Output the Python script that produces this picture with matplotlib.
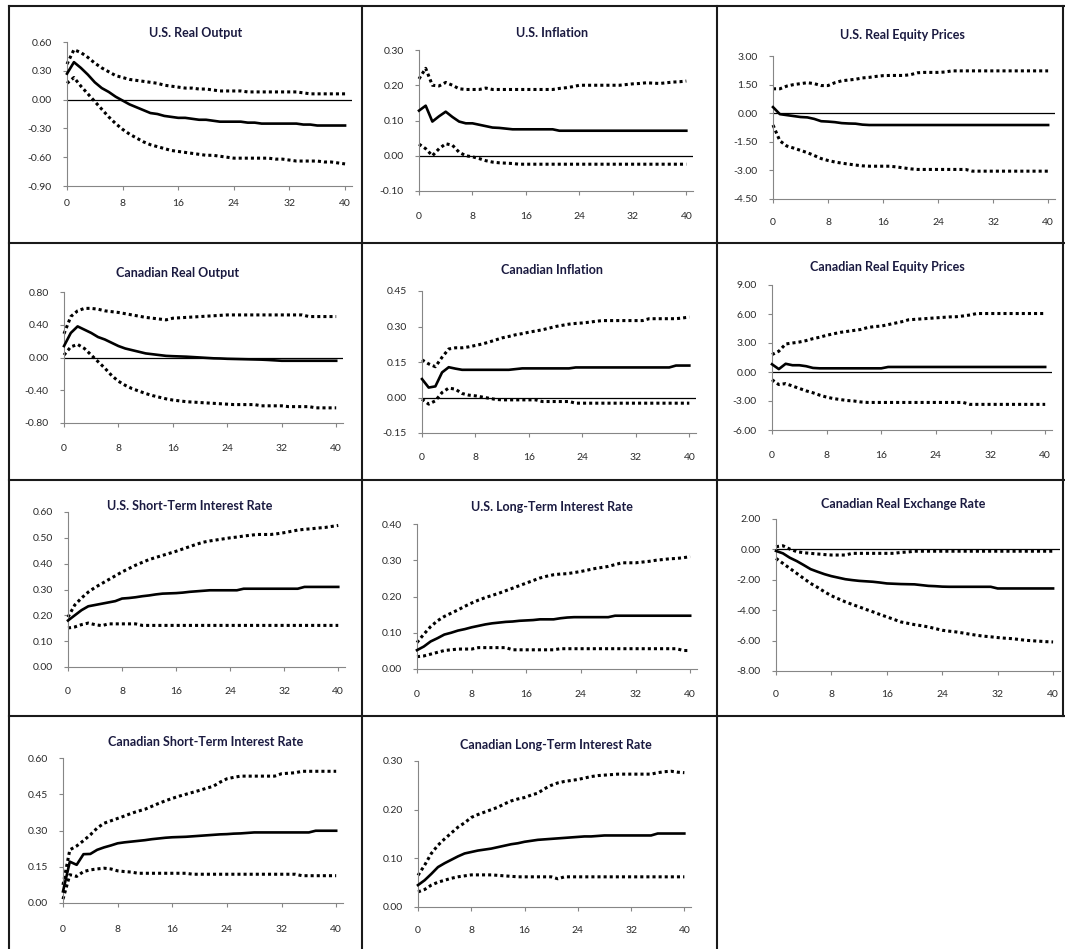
import matplotlib
matplotlib.use("Agg")
import matplotlib.pyplot as plt
from matplotlib.lines import Line2D
from matplotlib.ticker import FixedLocator, FormatStrFormatter
import numpy as np

plt.rcParams["font.family"] = ["Lato", "DejaVu Sans"]
plt.rcParams["axes.unicode_minus"] = False

W, H = 1065, 949
quarters = list(range(41))

titles = [
    "U.S. Real Output", "U.S. Inflation", "U.S. Real Equity Prices",
    "Canadian Real Output", "Canadian Inflation", "Canadian Real Equity Prices",
    "U.S. Short-Term Interest Rate", "U.S. Long-Term Interest Rate", "Canadian Real Exchange Rate",
    "Canadian Short-Term Interest Rate", "Canadian Long-Term Interest Rate",
]

# y axis ranges: (min, max, step)
y_ranges = [
    (-0.9, 0.6, 0.3), (-0.1, 0.3, 0.1), (-4.5, 3.0, 1.5),
    (-0.8, 0.8, 0.4), (-0.15, 0.45, 0.15), (-6.0, 9.0, 3.0),
    (0.0, 0.6, 0.1), (0.0, 0.4, 0.1), (-8.0, 2.0, 2.0),
    (0.0, 0.6, 0.15), (0.0, 0.3, 0.1),
]

# --- responses (mid) and bands (upper / lower), horizons 0..40 ---
us_output_mid = [0.27, 0.39, 0.33, 0.26, 0.18, 0.12, 0.08, 0.03, -0.01, -0.05, -0.08, -0.11, -0.14, -0.15,
                 -0.17, -0.18, -0.19, -0.19, -0.20, -0.21, -0.21, -0.22, -0.23, -0.23, -0.23, -0.23, -0.24,
                 -0.24, -0.25, -0.25, -0.25, -0.25, -0.25, -0.25, -0.26, -0.26, -0.27, -0.27, -0.27, -0.27, -0.27]
us_output_up = [0.37, 0.52, 0.49, 0.44, 0.38, 0.33, 0.29, 0.25, 0.23, 0.21, 0.20, 0.19, 0.18, 0.17, 0.15,
                0.14, 0.13, 0.12, 0.12, 0.11, 0.11, 0.10, 0.09, 0.09, 0.09, 0.09, 0.08, 0.08, 0.08, 0.08,
                0.08, 0.08, 0.08, 0.08, 0.07, 0.06, 0.06, 0.06, 0.06, 0.06, 0.06]
us_output_lo = [0.17, 0.23, 0.14, 0.06, -0.02, -0.10, -0.18, -0.25, -0.31, -0.36, -0.40, -0.44, -0.47, -0.49,
                -0.51, -0.53, -0.54, -0.55, -0.56, -0.57, -0.58, -0.58, -0.59, -0.60, -0.61, -0.61, -0.61,
                -0.61, -0.61, -0.61, -0.62, -0.62, -0.63, -0.64, -0.64, -0.64, -0.64, -0.65, -0.65, -0.66, -0.67]

us_infl_mid = [0.128, 0.142, 0.097, 0.112, 0.125, 0.110, 0.097, 0.092, 0.092, 0.088, 0.084, 0.080, 0.079,
               0.077, 0.075, 0.075, 0.075, 0.075, 0.075, 0.075, 0.075, 0.071, 0.071, 0.071, 0.071, 0.071,
               0.071, 0.071, 0.071, 0.071, 0.071, 0.071, 0.071, 0.071, 0.071, 0.071, 0.071, 0.071, 0.071,
               0.071, 0.071]
us_infl_up = [0.218, 0.248, 0.200, 0.198, 0.208, 0.200, 0.190, 0.188, 0.188, 0.188, 0.192, 0.188, 0.188,
              0.188, 0.188, 0.188, 0.188, 0.188, 0.188, 0.188, 0.188, 0.191, 0.193, 0.196, 0.200, 0.200,
              0.200, 0.200, 0.200, 0.200, 0.200, 0.202, 0.204, 0.205, 0.207, 0.206, 0.205, 0.207, 0.209,
              0.210, 0.212]
us_infl_lo = [0.033, 0.020, 0.000, 0.020, 0.034, 0.030, 0.010, 0.000, -0.003, -0.008, -0.014, -0.018, -0.020,
              -0.021, -0.022, -0.024, -0.024, -0.024, -0.024, -0.024, -0.024, -0.024, -0.024, -0.024, -0.024,
              -0.024, -0.024, -0.024, -0.024, -0.024, -0.024, -0.024, -0.024, -0.024, -0.024, -0.024, -0.024,
              -0.024, -0.024, -0.024, -0.024]

us_eq_mid = [0.32, -0.05, -0.10, -0.15, -0.20, -0.22, -0.30, -0.42, -0.44, -0.47, -0.52, -0.54, -0.55, -0.60,
             -0.62, -0.62, -0.62, -0.62, -0.62, -0.62, -0.62, -0.62, -0.62, -0.62, -0.62, -0.62, -0.62, -0.62,
             -0.62, -0.62, -0.62, -0.62, -0.62, -0.62, -0.62, -0.62, -0.62, -0.62, -0.62, -0.62, -0.62]
us_eq_up = [1.28, 1.28, 1.42, 1.50, 1.55, 1.60, 1.55, 1.45, 1.45, 1.60, 1.70, 1.74, 1.78, 1.85, 1.88, 1.93,
            1.97, 1.98, 1.98, 1.98, 2.02, 2.12, 2.14, 2.14, 2.14, 2.16, 2.22, 2.22, 2.22, 2.22, 2.22, 2.22,
            2.22, 2.22, 2.22, 2.22, 2.22, 2.22, 2.22, 2.22, 2.22]
us_eq_lo = [-0.62, -1.45, -1.72, -1.83, -1.95, -2.07, -2.22, -2.38, -2.48, -2.56, -2.62, -2.67, -2.72, -2.76,
            -2.78, -2.78, -2.78, -2.78, -2.82, -2.87, -2.92, -2.95, -2.95, -2.95, -2.95, -2.95, -2.95, -2.95,
            -2.95, -3.04, -3.04, -3.04, -3.04, -3.04, -3.04, -3.04, -3.04, -3.04, -3.04, -3.04, -3.04]

ca_output_mid = [0.14, 0.30, 0.38, 0.34, 0.30, 0.25, 0.22, 0.18, 0.14, 0.11, 0.09, 0.07, 0.05, 0.04, 0.03,
                 0.02, 0.016, 0.013, 0.01, 0.005, 0.0, -0.005, -0.01, -0.012, -0.016, -0.018, -0.02, -0.022,
                 -0.024, -0.026, -0.03, -0.035, -0.04, -0.04, -0.04, -0.04, -0.04, -0.04, -0.04, -0.04, -0.04]
ca_output_up = [0.29, 0.50, 0.57, 0.60, 0.60, 0.59, 0.57, 0.56, 0.55, 0.535, 0.52, 0.505, 0.49, 0.48, 0.47,
                0.46, 0.48, 0.485, 0.49, 0.495, 0.50, 0.505, 0.51, 0.515, 0.52, 0.52, 0.52, 0.52, 0.52, 0.52,
                0.52, 0.52, 0.52, 0.52, 0.52, 0.52, 0.50, 0.50, 0.50, 0.50, 0.50]
ca_output_lo = [0.03, 0.13, 0.16, 0.11, 0.03, -0.05, -0.13, -0.22, -0.29, -0.34, -0.38, -0.41, -0.44, -0.465,
                -0.485, -0.505, -0.52, -0.53, -0.54, -0.545, -0.55, -0.555, -0.56, -0.565, -0.57, -0.575,
                -0.575, -0.575, -0.575, -0.59, -0.59, -0.59, -0.59, -0.60, -0.60, -0.60, -0.60, -0.615, -0.615,
                -0.615, -0.615]

ca_infl_mid = [0.078, 0.042, 0.047, 0.106, 0.128, 0.122, 0.117, 0.117, 0.117, 0.117, 0.117, 0.117, 0.117,
               0.117, 0.120, 0.123, 0.123, 0.123, 0.123, 0.123, 0.123, 0.123, 0.123, 0.127, 0.127, 0.127,
               0.127, 0.127, 0.127, 0.127, 0.127, 0.127, 0.127, 0.127, 0.127, 0.127, 0.127, 0.127, 0.135,
               0.135, 0.135]
ca_infl_up = [0.159, 0.142, 0.130, 0.170, 0.205, 0.210, 0.210, 0.214, 0.220, 0.226, 0.234, 0.243, 0.252,
              0.258, 0.265, 0.270, 0.276, 0.281, 0.286, 0.293, 0.300, 0.305, 0.310, 0.313, 0.315, 0.318,
              0.322, 0.325, 0.325, 0.325, 0.325, 0.325, 0.325, 0.325, 0.333, 0.333, 0.333, 0.333, 0.333,
              0.336, 0.340]
ca_infl_lo = [-0.007, -0.028, -0.014, 0.021, 0.040, 0.035, 0.017, 0.010, 0.007, 0.002, -0.003, -0.008, -0.010,
              -0.010, -0.010, -0.010, -0.010, -0.010, -0.017, -0.017, -0.017, -0.017, -0.017, -0.024, -0.024,
              -0.024, -0.024, -0.024, -0.024, -0.024, -0.024, -0.024, -0.024, -0.024, -0.024, -0.024, -0.024,
              -0.024, -0.024, -0.024, -0.024]

ca_eq_mid = [0.80, 0.30, 0.85, 0.70, 0.70, 0.60, 0.42, 0.38, 0.38, 0.38, 0.38, 0.38, 0.38, 0.38, 0.38, 0.38,
             0.38, 0.52, 0.52, 0.52, 0.52, 0.52, 0.52, 0.52, 0.52, 0.52, 0.52, 0.52, 0.52, 0.52, 0.52, 0.52,
             0.52, 0.52, 0.52, 0.52, 0.52, 0.52, 0.52, 0.52, 0.52]
ca_eq_up = [1.80, 2.15, 2.90, 3.00, 3.10, 3.25, 3.45, 3.60, 3.80, 3.95, 4.10, 4.20, 4.30, 4.40, 4.60, 4.70,
            4.75, 4.90, 5.05, 5.20, 5.40, 5.45, 5.50, 5.55, 5.60, 5.65, 5.70, 5.72, 5.80, 5.90, 6.05, 6.05,
            6.05, 6.05, 6.05, 6.05, 6.05, 6.05, 6.05, 6.05, 6.05]
ca_eq_lo = [-0.80, -1.30, -1.20, -1.45, -1.70, -1.95, -2.15, -2.40, -2.60, -2.75, -2.85, -2.95, -3.00, -3.10,
            -3.15, -3.15, -3.15, -3.15, -3.15, -3.15, -3.15, -3.15, -3.15, -3.15, -3.15, -3.15, -3.15, -3.15,
            -3.15, -3.35, -3.35, -3.35, -3.35, -3.35, -3.35, -3.35, -3.35, -3.35, -3.35, -3.35, -3.35]

us_short_mid = [0.18, 0.20, 0.22, 0.235, 0.24, 0.245, 0.25, 0.255, 0.265, 0.267, 0.27, 0.274, 0.277, 0.281,
                0.284, 0.285, 0.286, 0.288, 0.291, 0.293, 0.295, 0.297, 0.297, 0.297, 0.297, 0.297, 0.303,
                0.303, 0.303, 0.303, 0.303, 0.303, 0.303, 0.303, 0.303, 0.31, 0.31, 0.31, 0.31, 0.31, 0.31]
us_short_up = [0.193, 0.24, 0.267, 0.29, 0.308, 0.323, 0.338, 0.353, 0.368, 0.381, 0.394, 0.405, 0.416,
               0.424, 0.432, 0.44, 0.448, 0.457, 0.466, 0.475, 0.483, 0.488, 0.492, 0.496, 0.50, 0.503, 0.507,
               0.51, 0.513, 0.513, 0.513, 0.516, 0.52, 0.525, 0.53, 0.533, 0.535, 0.538, 0.54, 0.544, 0.548]
us_short_lo = [0.151, 0.155, 0.164, 0.170, 0.164, 0.160, 0.167, 0.167, 0.167, 0.167, 0.167, 0.161, 0.161,
               0.161, 0.161, 0.161, 0.161, 0.161, 0.161, 0.161, 0.161, 0.161, 0.161, 0.161, 0.161, 0.161,
               0.161, 0.161, 0.161, 0.161, 0.161, 0.161, 0.161, 0.161, 0.161, 0.161, 0.161, 0.161, 0.161,
               0.161, 0.161]

us_long_mid = [0.052, 0.062, 0.076, 0.085, 0.095, 0.10, 0.106, 0.11, 0.115, 0.119, 0.123, 0.126, 0.128, 0.13,
               0.131, 0.133, 0.134, 0.135, 0.137, 0.137, 0.137, 0.14, 0.142, 0.143, 0.143, 0.143, 0.143,
               0.143, 0.143, 0.147, 0.147, 0.147, 0.147, 0.147, 0.147, 0.147, 0.147, 0.147, 0.147, 0.147,
               0.147]
us_long_up = [0.073, 0.096, 0.117, 0.133, 0.145, 0.154, 0.163, 0.173, 0.182, 0.19, 0.197, 0.203, 0.209, 0.216,
              0.223, 0.23, 0.237, 0.244, 0.251, 0.256, 0.26, 0.262, 0.263, 0.266, 0.269, 0.273, 0.277, 0.28,
              0.283, 0.288, 0.293, 0.293, 0.293, 0.295, 0.297, 0.30, 0.302, 0.304, 0.305, 0.307, 0.31]
us_long_lo = [0.034, 0.036, 0.041, 0.046, 0.051, 0.053, 0.055, 0.055, 0.055, 0.059, 0.059, 0.059, 0.059, 0.059,
              0.053, 0.053, 0.053, 0.053, 0.053, 0.053, 0.053, 0.056, 0.056, 0.056, 0.056, 0.056, 0.056, 0.056,
              0.056, 0.056, 0.056, 0.056, 0.056, 0.056, 0.056, 0.056, 0.056, 0.056, 0.056, 0.051, 0.051]

ca_fx_mid = [-0.10, -0.26, -0.55, -0.77, -1.03, -1.30, -1.47, -1.63, -1.76, -1.86, -1.96, -2.02, -2.07, -2.10,
             -2.13, -2.18, -2.24, -2.26, -2.28, -2.29, -2.30, -2.35, -2.40, -2.42, -2.45, -2.46, -2.46, -2.46,
             -2.46, -2.46, -2.46, -2.46, -2.57, -2.57, -2.57, -2.57, -2.57, -2.57, -2.57, -2.57, -2.57]
ca_fx_up = [0.18, 0.24, 0.02, -0.15, -0.22, -0.26, -0.30, -0.34, -0.37, -0.37, -0.37, -0.26, -0.26, -0.26,
            -0.26, -0.26, -0.26, -0.26, -0.20, -0.17, -0.12, -0.12, -0.12, -0.12, -0.12, -0.12, -0.12, -0.12,
            -0.12, -0.12, -0.12, -0.12, -0.12, -0.12, -0.12, -0.12, -0.12, -0.12, -0.12, -0.12, -0.12]
ca_fx_lo = [-0.59, -0.92, -1.25, -1.58, -1.91, -2.24, -2.50, -2.79, -3.05, -3.25, -3.45, -3.62, -3.78, -3.95,
            -4.11, -4.28, -4.44, -4.60, -4.77, -4.86, -4.95, -5.02, -5.10, -5.21, -5.32, -5.38, -5.43, -5.50,
            -5.58, -5.65, -5.71, -5.75, -5.80, -5.84, -5.87, -5.92, -5.98, -6.01, -6.04, -6.07, -6.09]

ca_short_mid = [0.048, 0.171, 0.158, 0.202, 0.203, 0.22, 0.23, 0.238, 0.247, 0.251, 0.254, 0.257, 0.26, 0.264,
                0.267, 0.27, 0.272, 0.273, 0.274, 0.276, 0.278, 0.28, 0.282, 0.284, 0.285, 0.287, 0.288, 0.29,
                0.292, 0.292, 0.292, 0.292, 0.292, 0.292, 0.292, 0.292, 0.292, 0.299, 0.299, 0.299, 0.299]
ca_short_up = [0.075, 0.22, 0.236, 0.258, 0.282, 0.31, 0.33, 0.34, 0.35, 0.36, 0.371, 0.38, 0.388, 0.40,
               0.412, 0.423, 0.433, 0.442, 0.45, 0.458, 0.466, 0.475, 0.483, 0.50, 0.514, 0.52, 0.525, 0.525,
               0.525, 0.525, 0.525, 0.525, 0.535, 0.537, 0.539, 0.545, 0.545, 0.545, 0.545, 0.545, 0.545]
ca_short_lo = [0.016, 0.117, 0.11, 0.13, 0.137, 0.141, 0.144, 0.141, 0.133, 0.13, 0.128, 0.123, 0.123, 0.123,
               0.123, 0.123, 0.123, 0.123, 0.123, 0.119, 0.119, 0.119, 0.119, 0.119, 0.119, 0.119, 0.119,
               0.119, 0.119, 0.119, 0.119, 0.119, 0.119, 0.119, 0.119, 0.113, 0.113, 0.113, 0.113, 0.113,
               0.113]

ca_long_mid = [0.045, 0.055, 0.068, 0.082, 0.09, 0.097, 0.104, 0.11, 0.113, 0.116, 0.118, 0.12, 0.123, 0.126,
               0.129, 0.131, 0.134, 0.136, 0.138, 0.139, 0.14, 0.141, 0.142, 0.143, 0.144, 0.145, 0.145,
               0.146, 0.147, 0.147, 0.147, 0.147, 0.147, 0.147, 0.147, 0.147, 0.151, 0.151, 0.151, 0.151,
               0.151]
ca_long_up = [0.065, 0.086, 0.11, 0.127, 0.14, 0.152, 0.164, 0.173, 0.184, 0.19, 0.195, 0.20, 0.205, 0.212,
              0.218, 0.222, 0.225, 0.23, 0.234, 0.243, 0.25, 0.255, 0.258, 0.26, 0.262, 0.265, 0.268, 0.27,
              0.271, 0.272, 0.273, 0.273, 0.273, 0.273, 0.273, 0.273, 0.276, 0.278, 0.279, 0.277, 0.276]
ca_long_lo = [0.031, 0.036, 0.045, 0.051, 0.055, 0.059, 0.062, 0.064, 0.066, 0.066, 0.066, 0.066, 0.065,
              0.064, 0.063, 0.062, 0.062, 0.062, 0.062, 0.062, 0.062, 0.058, 0.062, 0.062, 0.062, 0.062,
              0.062, 0.062, 0.062, 0.062, 0.062, 0.062, 0.062, 0.062, 0.062, 0.062, 0.062, 0.062, 0.062,
              0.062, 0.062]

series = [
    (us_output_mid, us_output_up, us_output_lo),
    (us_infl_mid, us_infl_up, us_infl_lo),
    (us_eq_mid, us_eq_up, us_eq_lo),
    (ca_output_mid, ca_output_up, ca_output_lo),
    (ca_infl_mid, ca_infl_up, ca_infl_lo),
    (ca_eq_mid, ca_eq_up, ca_eq_lo),
    (us_short_mid, us_short_up, us_short_lo),
    (us_long_mid, us_long_up, us_long_lo),
    (ca_fx_mid, ca_fx_up, ca_fx_lo),
    (ca_short_mid, ca_short_up, ca_short_lo),
    (ca_long_mid, ca_long_up, ca_long_lo),
]

# layout in pixels: y-axis x, axis right end, plot top, plot bottom, title x, title y, x-label y
boxes = [
    (67, 352, 42, 186, 196, 33, 204),
    (419, 693, 50, 191, 552, 33, 217),
    (773, 1055, 56, 199, 902, 35, 223),
    (64, 343, 292, 423, 178, 273, 449),
    (422, 696, 291, 433, 552, 270, 458),
    (772, 1052, 285, 430, 887, 267, 456),
    (68, 345, 512, 667, 190, 506, 692),
    (417, 697, 524, 669, 552, 507, 695),
    (776, 1060, 519, 671, 903, 504, 695),
    (63, 343, 758, 903, 206, 742, 930),
    (418, 691, 761, 907, 556, 745, 931),
]

fig = plt.figure(figsize=(W / 100, H / 100), dpi=100)
fig.patch.set_facecolor("white")

axis_grey = "#868686"
title_col = "#1a1a40"

for i in range(len(titles)):
    x0, x1, yt, yb, tx, ty, ly = boxes[i]
    ax = fig.add_axes([x0 / W, 1 - yb / H, (x1 - x0) / W, (yb - yt) / H])
    mid, up, lo = series[i]
    ymin, ymax, step = y_ranges[i]

    if ymin < 0:
        ax.axhline(0, color="black", lw=0.9, zorder=1)
    ax.plot(quarters, up, color="black", lw=2.2, linestyle=(0, (1, 1)),
            dash_capstyle="butt", zorder=2, clip_on=False)
    ax.plot(quarters, lo, color="black", lw=2.2, linestyle=(0, (1, 1)),
            dash_capstyle="butt", zorder=2, clip_on=False)
    ax.plot(quarters, mid, color="black", lw=1.9, zorder=3, clip_on=False,
            solid_joinstyle="round")

    ax.set_xlim(0, 41)
    ax.set_ylim(ymin, ymax)
    nt = int(round((ymax - ymin) / step)) + 1
    ax.yaxis.set_major_locator(FixedLocator([round(ymin + k * step, 4) + 0.0 for k in range(nt)]))
    ax.yaxis.set_major_formatter(FormatStrFormatter("%.2f"))
    ax.set_xticks([0, 8, 16, 24, 32, 40])

    for s in ["top", "right"]:
        ax.spines[s].set_visible(False)
    for s in ["left", "bottom"]:
        ax.spines[s].set_color(axis_grey)
        ax.spines[s].set_linewidth(0.8)

    xpad = (ly - yb - 4 - 5) * 0.72
    ax.tick_params(axis="x", length=3, width=0.8, color=axis_grey, pad=xpad,
                   labelsize=7.5, labelcolor="#2a2a2a")
    ax.tick_params(axis="y", length=3, width=0.8, color=axis_grey, pad=8,
                   labelsize=7.5, labelcolor="#2a2a2a")
    ax.set_facecolor("none")

    fig.text(tx / W, 1 - ty / H, titles[i], ha="center", va="center",
             fontsize=9, fontweight="bold", color=title_col)

# table borders around the panels
border_kw = dict(color="#1a1a1a", lw=1.5, transform=fig.transFigure)
for xv in [9, 362, 717]:
    fig.add_artist(Line2D([xv / W, xv / W], [1 - 6 / H, 0], **border_kw))
fig.add_artist(Line2D([1063 / W, 1063 / W], [1 - 6 / H, 1 - 716 / H], **border_kw))
for yh in [6, 243, 480, 716]:
    fig.add_artist(Line2D([9 / W, 1], [1 - yh / H, 1 - yh / H], **border_kw))

fig.savefig("out.png", dpi=100)
